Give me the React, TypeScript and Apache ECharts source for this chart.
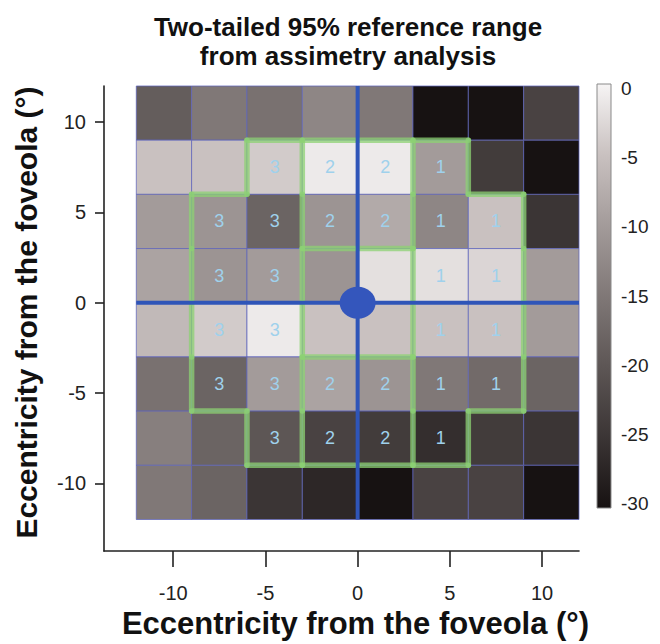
import React, { useEffect, useRef } from 'react';
import * as echarts from 'echarts';

// ---- data ----
const xCenters = [-10.5, -7.5, -4.5, -1.5, 1.5, 4.5, 7.5, 10.5];
const yCenters = [10.5, 7.5, 4.5, 1.5, -1.5, -4.5, -7.5, -10.5];
// rows follow yCenters (top to bottom), columns follow xCenters (left to right)
const cellValues = [
  [-19, -15, -16, -13, -15, -30, -30, -23],
  [-5, -5, -4, -1, -1, -10, -24, -30],
  [-10, -11, -18, -11, -8, -13, -5, -25],
  [-9, -11, -10, -11, -2, -2, -3, -10],
  [-6, -4, -1, -5, -5, -5, -5, -10],
  [-16, -18, -10, -9, -11, -15, -17, -18],
  [-14, -18, -20, -23, -24, -26, -24, -25],
  [-15, -18, -25, -27, -30, -23, -23, -30],
];
// 0 = outside, 1..3 = numbered zone, 4 = central zone (no number)
const zoneMap = [
  [0, 0, 0, 0, 0, 0, 0, 0],
  [0, 0, 3, 2, 2, 1, 0, 0],
  [0, 3, 3, 2, 2, 1, 1, 0],
  [0, 3, 3, 4, 4, 1, 1, 0],
  [0, 3, 3, 4, 4, 1, 1, 0],
  [0, 3, 3, 2, 2, 1, 1, 0],
  [0, 0, 3, 2, 2, 1, 0, 0],
  [0, 0, 0, 0, 0, 0, 0, 0],
];
const axisTicks = [-10, -5, 0, 5, 10];
const colorbarTicks = [0, -5, -10, -15, -20, -25, -30];
const colorMin = -30;
const colorMax = 0;

const CELL = 3;
const FONT = '"Liberation Sans", Arial, Helvetica, sans-serif';
const GRAY_SCALE = ['#171212', '#3b3535', '#5d5655', '#807877', '#a39b9a', '#c9c1c0', '#f6f4f4'];

export default function App() {
  const ref = useRef<HTMLDivElement>(null);

  useEffect(() => {
    if (!ref.current) return;
    const chart = echarts.init(ref.current, null, { renderer: 'svg' });
    const h = CELL / 2;

    const cellData: number[][] = [];
    const labelData: number[][] = [];
    yCenters.forEach((y, r) => {
      xCenters.forEach((x, c) => {
        cellData.push([x, y, cellValues[r][c]]);
        const z = zoneMap[r][c];
        if (z >= 1 && z <= 3) labelData.push([x, y, z]);
      });
    });

    const nR = yCenters.length;
    const nC = xCenters.length;
    const zoneAt = (r: number, c: number) =>
      r < 0 || r >= nR || c < 0 || c >= nC ? 0 : zoneMap[r][c];
    const segs: number[][] = [];
    for (let r = 0; r < nR; r++) {
      for (let c = 0; c < nC; c++) {
        const x = xCenters[c];
        const y = yCenters[r];
        const z = zoneAt(r, c);
        const zr = zoneAt(r, c + 1);
        if (z !== zr && (z || zr)) segs.push([x + h, y + h, x + h, y - h]);
        const zb = zoneAt(r + 1, c);
        if (z !== zb && (z || zb)) segs.push([x - h, y - h, x + h, y - h]);
        if (c === 0 && z) segs.push([x - h, y + h, x - h, y - h]);
        if (r === 0 && z) segs.push([x - h, y + h, x + h, y + h]);
      }
    }

    const xLo = xCenters[0] - h;
    const xHi = xCenters[nC - 1] + h;
    const yLo = yCenters[nR - 1] - h;
    const yHi = yCenters[0] + h;
    const crossData = [
      [xLo, 0, xHi, 0],
      [0, yLo, 0, yHi],
    ];

    const lineRender = (stroke: string, width: number) => (p: any, api: any) => {
      const a = api.coord([api.value(0), api.value(1)]);
      const b = api.coord([api.value(2), api.value(3)]);
      return {
        type: 'line',
        shape: { x1: a[0], y1: a[1], x2: b[0], y2: b[1] },
        style: { stroke, lineWidth: width, lineCap: 'round' },
      };
    };

    const option: any = {
      animation: false,
      backgroundColor: '#ffffff',
      title: {
        text: 'Two-tailed 95% reference range\nfrom assimetry analysis',
        left: 343,
        top: 7,
        textAlign: 'center',
        textStyle: { fontFamily: FONT, fontSize: 26, fontWeight: 'bold', color: '#111', lineHeight: 29 },
      },
      grid: [
        { left: 104, top: 86, width: 475, height: 466 },
        { left: 597, top: 84, width: 14, height: 424 },
      ],
      xAxis: [
        {
          type: 'value',
          gridIndex: 0,
          min: -13.75,
          max: 12,
          splitLine: { show: false },
          axisLine: { show: true, onZero: false, lineStyle: { color: '#222', width: 1.6 } },
          axisTick: { show: true, customValues: axisTicks, length: 16, lineStyle: { color: '#222', width: 1.6 } },
          axisLabel: { customValues: axisTicks, fontSize: 20, color: '#222', fontFamily: FONT, margin: 32 },
          name: 'Eccentricity from the foveola (°)',
          nameLocation: 'middle',
          nameGap: 48,
          nameTextStyle: { fontSize: 31, fontWeight: 'bold', color: '#111', fontFamily: FONT, padding: [0, 0, 0, 28] },
        },
        {
          type: 'value',
          gridIndex: 1,
          min: 0,
          max: 1,
          show: false,
        },
      ],
      yAxis: [
        {
          type: 'value',
          gridIndex: 0,
          min: -13.75,
          max: 12,
          splitLine: { show: false },
          axisLine: { show: true, onZero: false, lineStyle: { color: '#222', width: 1.6 } },
          axisTick: { show: true, customValues: axisTicks, length: 9, lineStyle: { color: '#222', width: 1.6 } },
          axisLabel: { customValues: axisTicks, fontSize: 20, color: '#222', fontFamily: FONT, margin: 18 },
          name: 'Eccentricity from the foveola (°)',
          nameLocation: 'middle',
          nameRotate: 90,
          nameGap: 63,
          nameTextStyle: { fontSize: 30, fontWeight: 'bold', color: '#111', fontFamily: FONT, padding: [0, 0, 0, 12] },
        },
        {
          type: 'value',
          gridIndex: 0,
          min: -13.75,
          max: 12,
          position: 'left',
          splitLine: { show: false },
          axisLine: { show: false },
          axisTick: { show: true, inside: true, customValues: axisTicks, length: 9, lineStyle: { color: '#222', width: 1.6 } },
          axisLabel: { show: false },
        },
        {
          type: 'value',
          gridIndex: 1,
          min: -30.29,
          max: 0.29,
          position: 'right',
          splitLine: { show: false },
          axisLine: { show: false },
          axisTick: { show: true, customValues: colorbarTicks, length: 8, lineStyle: { color: '#222', width: 1.4 } },
          axisLabel: { customValues: colorbarTicks, fontSize: 19, color: '#222', fontFamily: FONT, margin: 10 },
        },
      ],
      visualMap: {
        type: 'continuous',
        show: false,
        min: colorMin,
        max: colorMax,
        dimension: 2,
        seriesIndex: 0,
        inRange: { color: GRAY_SCALE },
      },
      series: [
        {
          type: 'custom',
          xAxisIndex: 0,
          yAxisIndex: 0,
          data: cellData,
          encode: { x: 0, y: 1 },
          z: 1,
          renderItem: (p: any, api: any) => {
            const x = api.value(0);
            const y = api.value(1);
            const a = api.coord([x - h, y + h]);
            const b = api.coord([x + h, y - h]);
            return {
              type: 'rect',
              shape: { x: a[0], y: a[1], width: b[0] - a[0], height: b[1] - a[1] },
              style: { fill: api.visual('color'), stroke: 'rgba(95,100,185,0.75)', lineWidth: 1 },
            };
          },
        },
        {
          type: 'custom',
          xAxisIndex: 0,
          yAxisIndex: 0,
          data: segs,
          encode: { x: [0, 2], y: [1, 3] },
          z: 2,
          renderItem: lineRender('rgba(140,210,115,0.75)', 5.5),
        },
        {
          type: 'custom',
          xAxisIndex: 0,
          yAxisIndex: 0,
          data: labelData,
          encode: { x: 0, y: 1 },
          z: 3,
          renderItem: (p: any, api: any) => {
            const c = api.coord([api.value(0), api.value(1)]);
            return {
              type: 'text',
              x: c[0],
              y: c[1],
              style: {
                text: String(api.value(2)),
                fill: '#9fd1ec',
                font: `18px ${FONT}`,
                align: 'center',
                verticalAlign: 'middle',
              },
            };
          },
        },
        {
          type: 'custom',
          xAxisIndex: 0,
          yAxisIndex: 0,
          data: crossData,
          encode: { x: [0, 2], y: [1, 3] },
          z: 4,
          renderItem: (p: any, api: any) => {
            const a = api.coord([api.value(0), api.value(1)]);
            const b = api.coord([api.value(2), api.value(3)]);
            return {
              type: 'line',
              shape: { x1: a[0], y1: a[1], x2: b[0], y2: b[1] },
              style: { stroke: '#2f55b8', lineWidth: 4 },
            };
          },
        },
        {
          type: 'custom',
          xAxisIndex: 0,
          yAxisIndex: 0,
          data: [[0, 0]],
          encode: { x: 0, y: 1 },
          z: 5,
          renderItem: (p: any, api: any) => {
            const c = api.coord([api.value(0), api.value(1)]);
            return {
              type: 'ellipse',
              shape: { cx: c[0], cy: c[1], rx: 18, ry: 16 },
              style: { fill: '#3456bc' },
            };
          },
        },
        {
          type: 'custom',
          xAxisIndex: 1,
          yAxisIndex: 2,
          data: [[0, colorMax, 1, colorMin]],
          encode: { x: [0, 2], y: [1, 3] },
          renderItem: (p: any, api: any) => {
            const r = p.coordSys;
            return {
              type: 'rect',
              shape: { x: r.x, y: r.y, width: r.width, height: r.height },
              style: {
                fill: new echarts.graphic.LinearGradient(0, 0, 0, 1,
                  GRAY_SCALE.slice().reverse().map((c, i, arr) => ({ offset: i / (arr.length - 1), color: c }))),
                stroke: '#8a8a8a',
                lineWidth: 1,
              },
            };
          },
        },
      ],
    };

    chart.setOption(option);
    return () => chart.dispose();
  }, []);

  return (
    <div
      ref={ref}
      style={{ position: 'fixed', left: 0, top: 0, width: 660, height: 644 }}
    />
  );
}
